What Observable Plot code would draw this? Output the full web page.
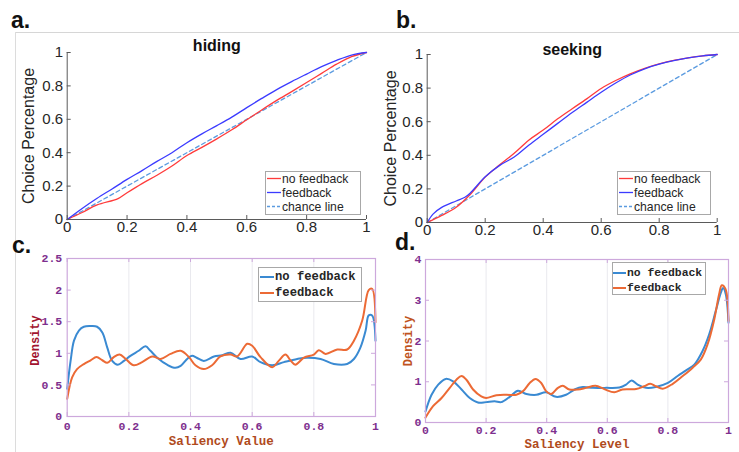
<!DOCTYPE html>
<html><head><meta charset="utf-8">
<script src="https://cdn.jsdelivr.net/npm/d3@7"></script>
<script src="https://cdn.jsdelivr.net/npm/@observablehq/plot@0.6"></script>
<style>
body{margin:0;background:#fff;}
#root{position:relative;width:739px;height:452px;overflow:hidden;background:#fff;}
.panel{position:absolute;}
#overlay{position:absolute;left:0;top:0;pointer-events:none;}
</style>
</head><body>
<div id="root">
  <div class="panel" id="pa" style="left:0px;top:30px"></div>
  <div class="panel" id="pb" style="left:372px;top:30px"></div>
  <div class="panel" id="pc" style="left:0px;top:245px"></div>
  <div class="panel" id="pd" style="left:380px;top:245px"></div>
</div>
<script>
// ---------- data ----------
const xTicks = [0, 0.2, 0.4, 0.6, 0.8, 1];
const choiceTicks = [0, 0.2, 0.4, 0.6, 0.8, 1];
const densityTicksC = [0, 0.5, 1, 1.5, 2, 2.5];
const densityTicksD = [0, 1, 2, 3, 4];
const gridTicks = [0.2, 0.4, 0.6, 0.8];
const chanceLine = [[0, 0], [1, 1]];

const hidingNoFeedback = [[0,0],[0.05,0.042],[0.1,0.087],[0.17,0.125],[0.2,0.16],[0.25,0.215],[0.3,0.265],[0.35,0.32],[0.4,0.383],[0.45,0.432],[0.5,0.483],[0.55,0.537],[0.6,0.597],[0.65,0.656],[0.7,0.713],[0.75,0.766],[0.8,0.82],[0.85,0.875],[0.9,0.93],[0.95,0.975],[1,1]];
const hidingFeedback = [[0,0],[0.05,0.066],[0.1,0.127],[0.15,0.183],[0.2,0.24],[0.25,0.293],[0.3,0.348],[0.35,0.4],[0.4,0.46],[0.45,0.513],[0.5,0.562],[0.55,0.613],[0.6,0.67],[0.65,0.725],[0.7,0.778],[0.75,0.826],[0.8,0.871],[0.85,0.915],[0.9,0.953],[0.95,0.985],[1,1]];

const seekingNoFeedback = [[0,0],[0.05,0.042],[0.1,0.091],[0.15,0.17],[0.2,0.27],[0.25,0.343],[0.3,0.412],[0.35,0.49],[0.4,0.55],[0.45,0.617],[0.5,0.677],[0.55,0.736],[0.6,0.798],[0.65,0.845],[0.7,0.885],[0.75,0.918],[0.8,0.944],[0.85,0.965],[0.9,0.98],[0.95,0.992],[1,1]];
const seekingFeedback = [[0,0],[0.02,0.05],[0.05,0.09],[0.1,0.128],[0.13,0.15],[0.15,0.178],[0.2,0.272],[0.25,0.34],[0.3,0.39],[0.35,0.46],[0.4,0.525],[0.45,0.59],[0.5,0.655],[0.55,0.715],[0.6,0.775],[0.65,0.83],[0.7,0.878],[0.75,0.915],[0.8,0.942],[0.85,0.963],[0.9,0.98],[0.95,0.992],[1,1]];

const valueNoFeedback = [[0,0.44],[0.011,0.88],[0.022,1.2],[0.038,1.36],[0.054,1.42],[0.076,1.43],[0.097,1.42],[0.114,1.33],[0.13,1.09],[0.146,0.88],[0.164,0.82],[0.184,0.88],[0.205,0.96],[0.232,1.04],[0.254,1.11],[0.27,1.04],[0.292,0.93],[0.324,0.82],[0.351,0.77],[0.368,0.8],[0.389,0.91],[0.405,0.96],[0.42,0.93],[0.443,0.88],[0.476,0.95],[0.503,0.97],[0.53,1.01],[0.562,0.91],[0.6,0.95],[0.627,0.86],[0.665,0.81],[0.703,0.86],[0.746,0.91],[0.778,0.93],[0.822,0.91],[0.865,0.83],[0.908,0.83],[0.93,0.91],[0.951,1.09],[0.968,1.36],[0.978,1.6],[0.989,1.6],[1,1.2]];
const valueFeedback = [[0,0.28],[0.016,0.62],[0.032,0.75],[0.054,0.83],[0.076,0.89],[0.095,0.94],[0.114,0.89],[0.13,0.85],[0.151,0.94],[0.17,0.98],[0.19,0.91],[0.216,0.81],[0.243,0.86],[0.276,0.95],[0.303,0.91],[0.335,0.99],[0.368,1.04],[0.395,0.94],[0.416,0.81],[0.443,0.75],[0.47,0.81],[0.497,0.95],[0.53,0.98],[0.551,0.95],[0.584,1.15],[0.6,1.12],[0.627,0.94],[0.665,0.78],[0.686,0.88],[0.708,0.98],[0.724,0.89],[0.74,0.82],[0.768,0.93],[0.8,0.98],[0.816,1.05],[0.838,0.99],[0.876,1.06],[0.908,1.06],[0.93,1.2],[0.957,1.52],[0.978,2.0],[0.989,2.02],[1,1.49]];

const levelNoFeedback = [[0,0.27],[0.02,0.68],[0.042,0.93],[0.067,1.07],[0.091,1.01],[0.119,0.81],[0.146,0.6],[0.173,0.49],[0.2,0.5],[0.228,0.52],[0.25,0.5],[0.278,0.63],[0.305,0.78],[0.333,0.7],[0.366,0.68],[0.398,0.74],[0.431,0.63],[0.464,0.68],[0.492,0.81],[0.519,0.87],[0.552,0.85],[0.596,0.85],[0.64,0.86],[0.662,0.93],[0.68,1.03],[0.7,0.93],[0.728,0.85],[0.76,0.87],[0.8,0.97],[0.832,1.14],[0.86,1.28],[0.887,1.42],[0.914,1.75],[0.936,2.16],[0.958,2.74],[0.975,3.19],[0.982,3.3],[0.991,3.15],[1,2.45]];
const levelFeedback = [[0,0.12],[0.025,0.4],[0.053,0.6],[0.08,0.85],[0.102,1.05],[0.119,1.14],[0.135,1.05],[0.157,0.81],[0.184,0.64],[0.2,0.6],[0.234,0.67],[0.267,0.68],[0.3,0.68],[0.322,0.77],[0.344,0.97],[0.363,1.07],[0.382,0.97],[0.398,0.77],[0.415,0.7],[0.437,0.85],[0.453,0.9],[0.475,0.81],[0.503,0.81],[0.53,0.85],[0.561,0.9],[0.59,0.82],[0.623,0.74],[0.65,0.81],[0.695,0.82],[0.722,0.89],[0.742,0.95],[0.76,0.89],[0.783,0.83],[0.816,0.95],[0.849,1.14],[0.881,1.34],[0.909,1.55],[0.931,1.92],[0.953,2.53],[0.969,3.15],[0.978,3.37],[0.99,3.28],[1,2.49]];

// ---------- styling ----------
const RED = "#ff3b3b", BLUE = "#3b3bff", CHANCE = "#5b9be0";
const MBLUE = "#3a8ad2", MORANGE = "#ec6a35";
const PURPLE = "#7e2f8e", LAVENDER = "#cda8dc";
const SANS = "Liberation Sans, Arial, sans-serif";
const MONO = "Liberation Mono, Courier New, monospace";
const fx = d => d[0], fy = d => d[1];

function choicePanel({width, height, mt, mr, mb, ml, title, titleDy, labelDx, noFb, fb}) {
  const W = width - ml - mr, H = height - mt - mb;
  const axisC = "#5a5a5a";
  return Plot.plot({
    width, height, marginTop: mt, marginRight: mr, marginBottom: mb, marginLeft: ml,
    x: {domain: [0, 1], axis: null},
    y: {domain: [0, 1], axis: null},
    style: {background: "transparent", overflow: "visible", fontFamily: SANS, color: "#262626"},
    marks: [
      Plot.line(chanceLine, {x: fx, y: fy, stroke: CHANCE, strokeWidth: 1.3, strokeDasharray: "4,3"}),
      Plot.line(noFb, {x: fx, y: fy, stroke: RED, strokeWidth: 1.3, curve: "catmull-rom"}),
      Plot.line(fb, {x: fx, y: fy, stroke: BLUE, strokeWidth: 1.3, curve: "catmull-rom"}),
      Plot.ruleX([0], {stroke: axisC, strokeWidth: 1}),
      Plot.ruleY([0], {stroke: axisC, strokeWidth: 1}),
      Plot.tickY(choiceTicks, {y: d => d, insetRight: W - 4, stroke: axisC}),
      Plot.tickX(xTicks, {x: d => d, insetTop: H - 4, stroke: axisC}),
      Plot.text(xTicks, {x: d => d, frameAnchor: "bottom", dy: 12, text: d => String(d), fontSize: 15, fill: "#262626"}),
      Plot.text(choiceTicks, {y: d => d, frameAnchor: "left", dx: -4, textAnchor: "end", text: d => String(d), fontSize: 15, fill: "#262626"}),
      Plot.text([title], {frameAnchor: "top", dy: titleDy, text: d => d, fontSize: 16, fontWeight: "bold", fill: "#111"}),
      Plot.text(["Choice Percentage"], {frameAnchor: "left", textAnchor: "middle", dx: labelDx, rotate: -90, text: d => d, fontSize: 16, fill: "#262626"})
    ]
  });
}

function densityPanel({width, height, mt, mr, mb, ml, yMax, yTicks, noFb, fb, yLabelDx, yLabelDy, yLabelColor, xLabel, xLabelDy, xLabelColor, tickDx, tickDy}) {
  const W = width - ml - mr, H = height - mt - mb;
  return Plot.plot({
    width, height, marginTop: mt, marginRight: mr, marginBottom: mb, marginLeft: ml,
    x: {domain: [0, 1], axis: null},
    y: {domain: [0, yMax], axis: null},
    style: {background: "transparent", overflow: "visible", fontFamily: MONO},
    marks: [
      Plot.ruleX(gridTicks, {x: d => d, stroke: "#e9e9ee", strokeWidth: 1}),
      Plot.line(noFb, {x: fx, y: fy, stroke: MBLUE, strokeWidth: 2, curve: "catmull-rom"}),
      Plot.line(fb, {x: fx, y: fy, stroke: MORANGE, strokeWidth: 2, curve: "catmull-rom"}),
      Plot.frame({stroke: LAVENDER, strokeWidth: 1.2}),
      Plot.tickX(xTicks, {x: d => d, insetTop: H - 4, stroke: LAVENDER}),
      Plot.tickX(xTicks, {x: d => d, insetBottom: H - 4, stroke: LAVENDER}),
      Plot.tickY(yTicks, {y: d => d, insetRight: W - 4, stroke: LAVENDER}),
      Plot.tickY(yTicks, {y: d => d, insetLeft: W - 4, stroke: LAVENDER}),
      Plot.text(xTicks, {x: d => d, frameAnchor: "bottom", dy: tickDy, text: d => String(d), fontSize: 11.5, fontWeight: "bold", fill: PURPLE}),
      Plot.text(yTicks, {y: d => d, frameAnchor: "left", dx: tickDx, textAnchor: "end", text: d => String(d), fontSize: 11.5, fontWeight: "bold", fill: PURPLE}),
      Plot.text(["Density"], {frameAnchor: "left", textAnchor: "middle", dx: yLabelDx, dy: yLabelDy, rotate: -90, text: d => d, fontSize: 12, fontWeight: "bold", fill: yLabelColor}),
      Plot.text([xLabel], {frameAnchor: "bottom", dy: xLabelDy, text: d => d, fontSize: 12.5, fontWeight: "bold", fill: xLabelColor})
    ]
  });
}

document.getElementById("pa").append(choicePanel({
  width: 372, height: 212, mt: 22, mr: 6, mb: 23, ml: 66.7,
  title: "hiding", titleDy: -13, labelDx: -38.7, noFb: hidingNoFeedback, fb: hidingFeedback
}));
document.getElementById("pb").append(choicePanel({
  width: 367, height: 215, mt: 24, mr: 22.3, mb: 23, ml: 54.7,
  title: "seeking", titleDy: -11, labelDx: -36.7, noFb: seekingNoFeedback, fb: seekingFeedback
}));
document.getElementById("pc").append(densityPanel({
  width: 380, height: 207, mt: 13, mr: 5, mb: 36, ml: 66.7,
  yMax: 2.5, yTicks: densityTicksC, noFb: valueNoFeedback, fb: valueFeedback,
  yLabelDx: -31.7, yLabelDy: 3, yLabelColor: "#a2142f", xLabel: "Saliency Value", xLabelDy: 28, xLabelColor: "#b04a1c",
  tickDx: -5, tickDy: 13
}));
document.getElementById("pd").append(densityPanel({
  width: 359, height: 207, mt: 14, mr: 11, mb: 30, ml: 45,
  yMax: 4, yTicks: densityTicksD, noFb: levelNoFeedback, fb: levelFeedback,
  yLabelDx: -17, yLabelDy: 0, yLabelColor: "#c0531e", xLabel: "Saliency Level", xLabelDy: 25, xLabelColor: "#b04a1c",
  tickDx: -4, tickDy: 11
}));

// ---------- overlay: figure frame, panel letters, legends ----------
const NS = "http://www.w3.org/2000/svg";
const ov = document.createElementNS(NS, "svg");
ov.setAttribute("id", "overlay");
ov.setAttribute("width", 739); ov.setAttribute("height", 452);
document.getElementById("root").append(ov);
function el(tag, attrs, text) {
  const e = document.createElementNS(NS, tag);
  for (const k in attrs) if (attrs[k] != null) e.setAttribute(k, attrs[k]);
  if (text != null) e.textContent = text;
  ov.append(e);
  return e;
}
el("line", {x1: 15, y1: 32.5, x2: 739, y2: 32.5, stroke: "#d6d6d6", "stroke-width": 1});
el("line", {x1: 15.5, y1: 32, x2: 15.5, y2: 452, stroke: "#dcdcdc", "stroke-width": 1});
const letters = [["a.", 11, 28], ["b.", 396, 28], ["c.", 12, 253], ["d.", 395, 250]];
for (const [t, x, y] of letters) el("text", {x, y, "font-family": SANS, "font-size": 23, "font-weight": "bold", fill: "#111"}, t);

function legend({x, y, w, h, rows, lx1, lx2, tx, font, size, weight}) {
  el("rect", {x: x + 0.5, y: y + 0.5, width: w, height: h, fill: "#fff", stroke: "#a8a8a8", "stroke-width": 1});
  for (const r of rows) {
    el("line", {x1: lx1, x2: lx2, y1: r.y, y2: r.y, stroke: r.color, "stroke-width": r.width, "stroke-dasharray": r.dash});
    el("text", {x: tx, y: r.y, "dominant-baseline": "central", "font-family": font, "font-size": size, "font-weight": weight, fill: "#262626"}, r.label);
  }
}
const legendA = ["no feedback", "feedback", "chance line"];
const legendC = ["no feedback", "feedback"];
legend({x: 265, y: 171, w: 95, h: 43, lx1: 267, lx2: 281, tx: 282, font: SANS, size: 12.2, weight: "normal",
  rows: [{y: 178.5, color: RED, width: 1.3, label: legendA[0]}, {y: 192.5, color: BLUE, width: 1.3, label: legendA[1]}, {y: 206.5, color: CHANCE, width: 1.3, dash: "3,2", label: legendA[2]}]});
legend({x: 617, y: 171, w: 93, h: 43, lx1: 619, lx2: 633, tx: 634, font: SANS, size: 12.2, weight: "normal",
  rows: [{y: 178.5, color: RED, width: 1.3, label: legendA[0]}, {y: 192.5, color: BLUE, width: 1.3, label: legendA[1]}, {y: 206.5, color: CHANCE, width: 1.3, dash: "3,2", label: legendA[2]}]});
legend({x: 258, y: 267, w: 103, h: 34, lx1: 260, lx2: 274, tx: 275, font: MONO, size: 12.2, weight: "bold",
  rows: [{y: 277, color: MBLUE, width: 2, label: legendC[0]}, {y: 293, color: MORANGE, width: 2, label: legendC[1]}]});
legend({x: 612, y: 262, w: 93, h: 32, lx1: 613, lx2: 626, tx: 627, font: MONO, size: 11.4, weight: "bold",
  rows: [{y: 273, color: MBLUE, width: 2, label: legendC[0]}, {y: 288, color: MORANGE, width: 2, label: legendC[1]}]});
</script>
</body></html>
